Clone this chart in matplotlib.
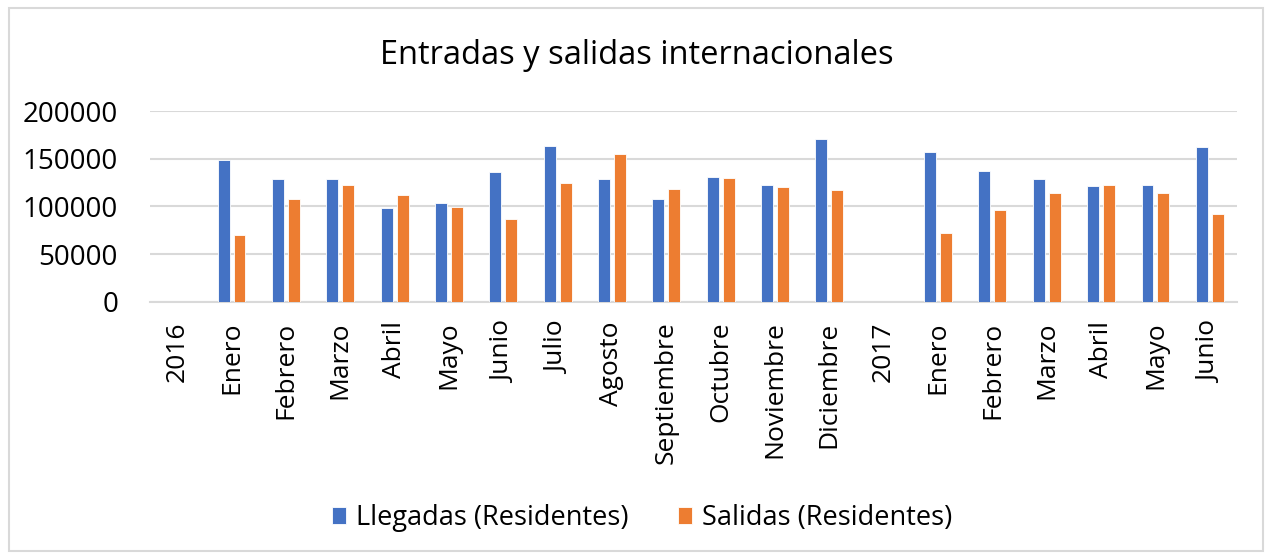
import numpy as np
import matplotlib.pyplot as plt
from matplotlib.patches import Rectangle

categorias = ["2016", "Enero", "Febrero", "Marzo", "Abril", "Mayo", "Junio", "Julio",
              "Agosto", "Septiembre", "Octubre", "Noviembre", "Diciembre", "2017",
              "Enero", "Febrero", "Marzo", "Abril", "Mayo", "Junio"]
llegadas = [np.nan, 149100, 128800, 128800, 98600, 103900, 136500, 163200, 128400, 107700,
            130900, 122100, 170500, np.nan, 157200, 137200, 128400, 121400, 122800, 162100]
salidas = [np.nan, 69800, 108100, 122800, 111600, 99600, 87400, 124200, 155400, 118200,
           129500, 120700, 117500, np.nan, 72300, 96500, 114000, 122800, 114000, 91900]

azul = "#4472C4"
naranja = "#ED7D31"
gris = "#D9D9D9"
fuente = "Open Sans"

fig = plt.figure(figsize=(12.65, 5.53), dpi=100)
ax = fig.add_axes([150 / 1265, 1 - 302 / 553, (1237 - 150) / 1265, (302 - 111) / 553])

x = np.arange(len(categorias))
w = 0.22
ax.bar(x - 0.147, llegadas, w, color=azul, edgecolor="white", linewidth=0.6,
       label="Llegadas (Residentes)", zorder=3)
ax.bar(x + 0.147, salidas, w, color=naranja, edgecolor="white", linewidth=0.6,
       label="Salidas (Residentes)", zorder=3)

ax.set_xlim(-0.5, len(categorias) - 0.5)
ax.set_ylim(0, 200000)
ax.set_yticks(np.arange(0, 200001, 50000))
ax.set_yticklabels([str(v) for v in range(0, 200001, 50000)],
                   fontfamily=fuente, fontsize=20, color="#000000")
ax.set_xticks(x)
ax.set_xticklabels(categorias, rotation=90, fontfamily=fuente, fontsize=19,
                   va="top", ha="center")
ax.tick_params(axis="both", length=0)
ax.tick_params(axis="x", pad=14)
ax.tick_params(axis="y", pad=23)
ax.grid(axis="y", color=gris, linewidth=1.5, zorder=0)
for s in ["top", "right", "left"]:
    ax.spines[s].set_visible(False)
ax.spines["bottom"].set_color(gris)
ax.spines["bottom"].set_linewidth(1.5)

fig.text(637 / 1265, 1 - 56 / 553, "Entradas y salidas internacionales",
         fontfamily=fuente, fontsize=23.5, ha="center", va="center")

fig.legend(loc="center", bbox_to_anchor=(642 / 1265, 1 - 518 / 553), ncol=2, frameon=False,
           prop={"family": fuente, "size": 19.5}, handlelength=0.55, handleheight=0.55,
           handletextpad=0.36, columnspacing=1.8)

fig.patches.append(Rectangle((9 / 1265, 2 / 553), 1254 / 1265, 543 / 553,
                             transform=fig.transFigure, fill=False, edgecolor=gris,
                             linewidth=1.5))

fig.savefig("out.png", dpi=100)
